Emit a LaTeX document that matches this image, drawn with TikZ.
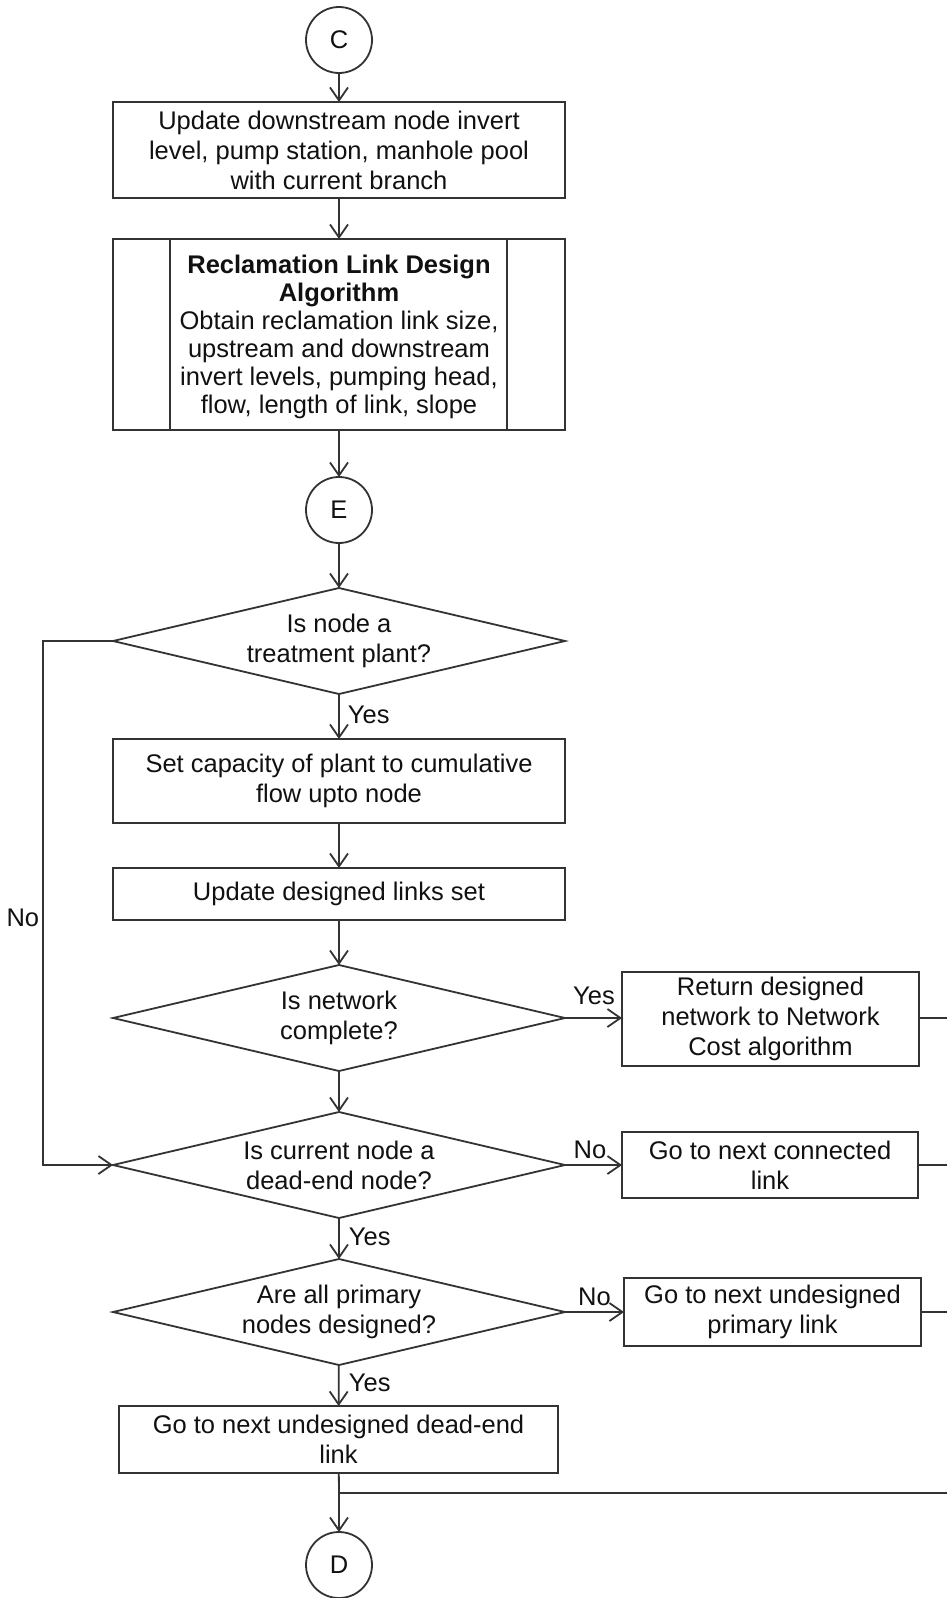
\documentclass[tikz,border=0pt]{standalone}
\usepackage{fontspec}
\setmainfont{Liberation Sans}
\usetikzlibrary{shapes.geometric,arrows.meta}
\definecolor{ln}{HTML}{333333}
\definecolor{tx}{HTML}{111111}
\begin{document}
\begin{tikzpicture}[x=1pt,y=-1pt,
  line width=1.8pt,
  every node/.style={font=\fontsize{25.5}{30}\selectfont, text=tx},
  proc/.style={draw=ln, rectangle, inner sep=0pt, outer sep=0pt, align=center},
  dec/.style={draw=ln, diamond, inner sep=0pt, outer sep=0pt, align=center,
              minimum width=452pt, minimum height=106pt, aspect=4.26},
  conn/.style={draw=ln, circle, minimum size=66pt, inner sep=0pt, outer sep=0pt},
  arr/.style={draw=ln, -{Straight Barb[length=13pt,width=18pt]}},
  line/.style={draw=ln},
  lab/.style={inner sep=0pt}
]
\useasboundingbox (0,0) rectangle (947,1598);
\fill[white] (0,0) rectangle (947,1598);

% nodes
\node[conn] (C) at (339,40) {C};
\node[proc, minimum width=452pt, minimum height=96pt] (b1) at (339,150)
  {Update downstream node invert\\level, pump station, manhole pool\\with current branch};
\node[proc, minimum width=452pt, minimum height=191pt] (b2) at (339,334.5) {};
\node[align=center, inner sep=0pt, font=\fontsize{25.5}{28}\selectfont] (b2t) at (339,337)
  {\textbf{Reclamation Link Design}\\\textbf{Algorithm}\\Obtain reclamation link size,\\upstream and downstream\\invert levels, pumping head,\\flow, length of link, slope};
\draw[line] ([xshift=57pt]b2.north west) -- ([xshift=57pt]b2.south west);
\draw[line] ([xshift=-58pt]b2.north east) -- ([xshift=-58pt]b2.south east);
\node[conn] (E) at (339,510) {E};
\node[dec] (d1) at (339,641) {Is node a\\treatment plant?};
\node[proc, minimum width=452pt, minimum height=84pt] (b3) at (339,781)
  {Set capacity of plant to cumulative\\flow upto node};
\node[proc, minimum width=452pt, minimum height=52pt] (b4) at (339,894)
  {Update designed links set};
\node[dec] (d2) at (339,1018) {Is network\\complete?};
\node[proc, minimum width=297pt, minimum height=94pt] (b5) at (770.5,1019)
  {Return designed\\network to Network\\Cost algorithm};
\node[dec] (d3) at (339,1165) {Is current node a\\dead-end node?};
\node[proc, minimum width=296pt, minimum height=66pt] (b6) at (770,1165)
  {Go to next connected\\link};
\node[dec] (d4) at (339,1312) {Are all primary\\nodes designed?};
\node[proc, minimum width=297pt, minimum height=68pt] (b7) at (772.5,1312)
  {Go to next undesigned\\primary link};
\node[proc, minimum width=439pt, minimum height=67pt] (b8) at (338.5,1439.5)
  {Go to next undesigned dead-end\\link};
\node[conn] (D) at (339,1565) {D};

\coordinate (j) at (339,1493);
\coordinate (r5) at (947,1018);
\coordinate (r6) at (947,1165);
\coordinate (r7) at (947,1312);
\coordinate (rj) at (947,1493);
\coordinate (ltop) at (43,641);
\coordinate (lbot) at (43,1165);

% connectors
\draw[arr] (C) -- (b1);
\draw[arr] (b1) -- (b2);
\draw[arr] (b2) -- (E);
\draw[arr] (E) -- (d1);
\draw[arr] (d1) -- (b3);
\draw[arr] (b3) -- (b4);
\draw[arr] (b4) -- (d2);
\draw[arr] (d2) -- (d3);
\draw[arr] (d3) -- (d4);
\draw[arr] (d4) -- (b8);
\draw[line] (b8) -- (j);
\draw[arr] (j) -- (D);
\draw[line] (j) -- (rj);
\draw[arr] (d2.east) -- (d2.east -| b5.west);
\draw[arr] (d3.east) -- (b6.west);
\draw[arr] (d4.east) -- (b7.west);
\draw[line] (b5.east |- r5) -- (r5);
\draw[line] (b6.east) -- (r6);
\draw[line] (b7.east) -- (r7);
\draw[arr] (d1.west) -- (ltop) -- (lbot) -- (d3.west);

% labels
\node[lab, anchor=west] (y1) at (347,715) {Yes};
\node[lab] (y2) at (594,996) {Yes};
\node[lab] (n3) at (590,1150) {No};
\node[lab] (n4) at (594.5,1297) {No};
\node[lab, anchor=west] (y3) at (348,1237) {Yes};
\node[lab, anchor=west] (y4) at (348,1383) {Yes};
\node[lab, anchor=east] (n1) at (40,918) {No};
\end{tikzpicture}
\end{document}
